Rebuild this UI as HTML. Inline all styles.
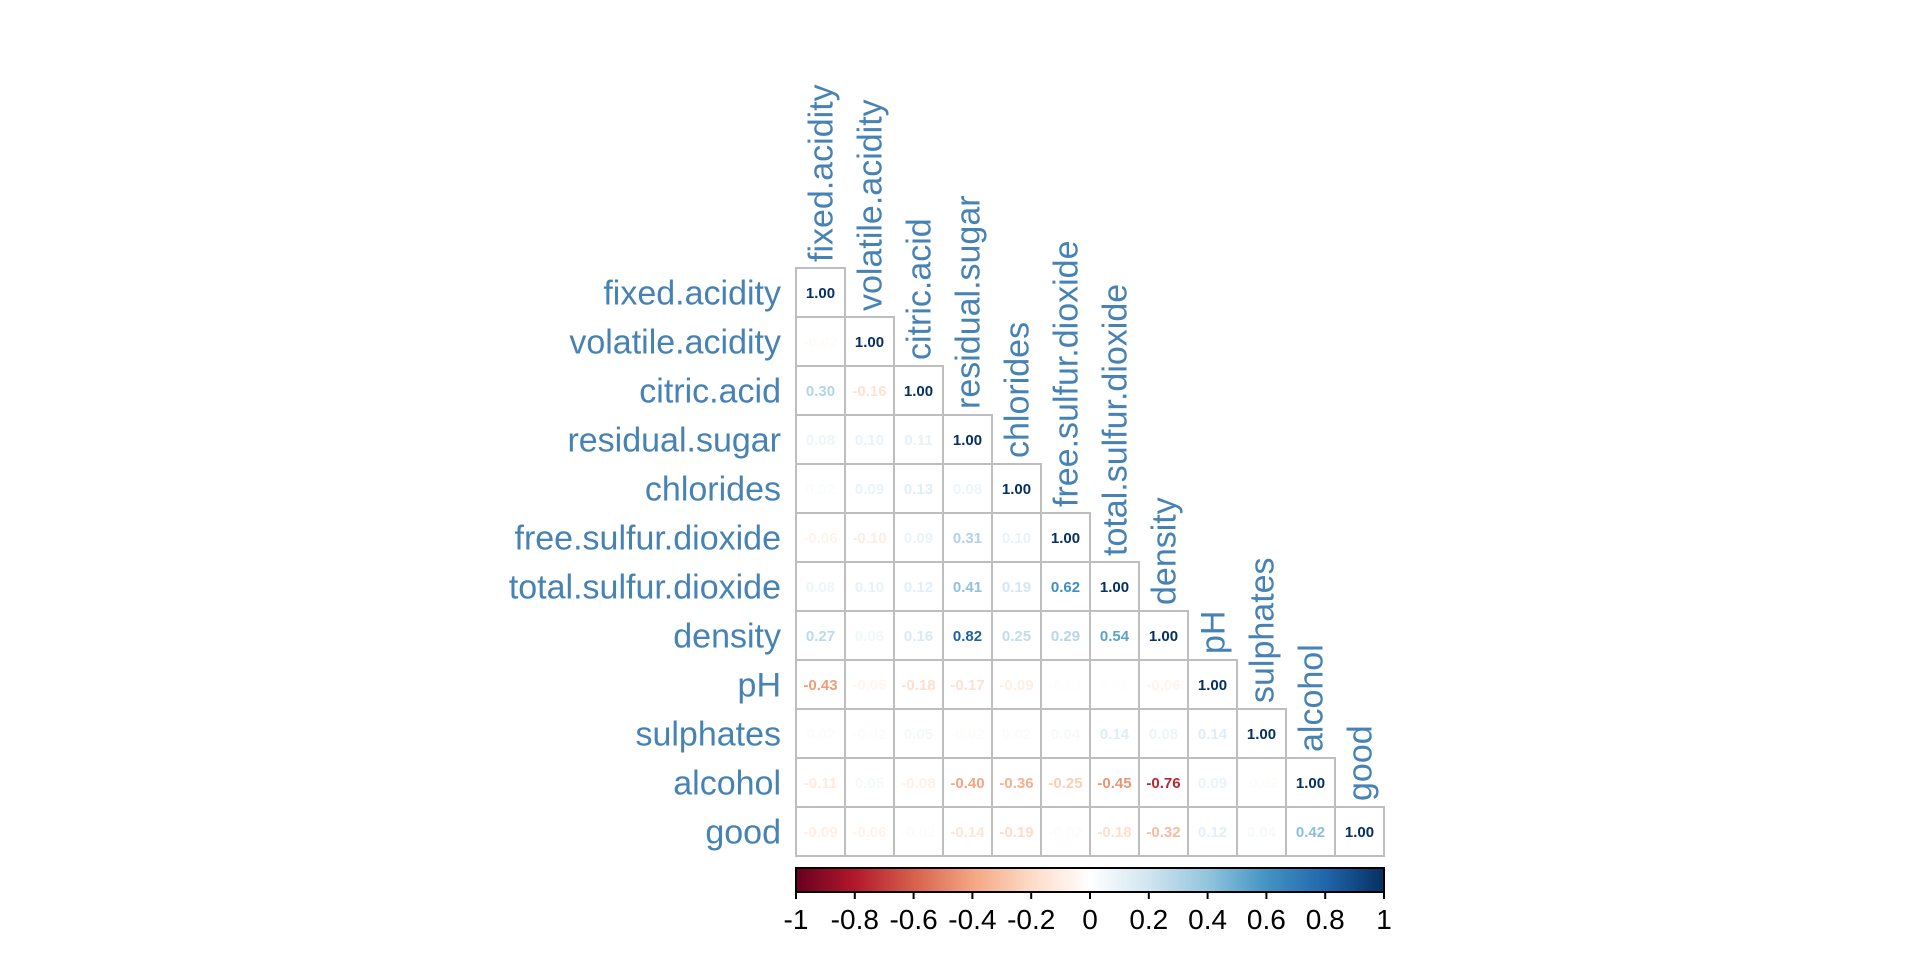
<!DOCTYPE html>
<html><head><meta charset="utf-8"><style>
html,body{margin:0;padding:0;background:#fff;width:1920px;height:960px;overflow:hidden}
svg{display:block}
</style></head><body>
<svg id="s" width="1920" height="960" xmlns="http://www.w3.org/2000/svg" font-family="Liberation Sans, Arial, sans-serif"></svg>
<script>
const names=["fixed.acidity","volatile.acidity","citric.acid","residual.sugar","chlorides","free.sulfur.dioxide","total.sulfur.dioxide","density","pH","sulphates","alcohol","good"];
const M=[
[1],
[-0.02,1],
[0.30,-0.16,1],
[0.08,0.10,0.11,1],
[0.02,0.09,0.13,0.08,1],
[-0.06,-0.10,0.09,0.31,0.10,1],
[0.08,0.10,0.12,0.41,0.19,0.62,1],
[0.27,0.06,0.16,0.82,0.25,0.29,0.54,1],
[-0.43,-0.05,-0.18,-0.17,-0.09,-0.01,0.01,-0.06,1],
[0.02,-0.02,0.05,-0.02,0.02,0.04,0.14,0.08,0.14,1],
[-0.11,0.05,-0.08,-0.40,-0.36,-0.25,-0.45,-0.76,0.09,-0.02,1],
[-0.09,-0.06,-0.02,-0.14,-0.19,-0.02,-0.18,-0.32,0.12,0.04,0.42,1]];
const pal=["#67001F","#B2182B","#D6604D","#F4A582","#FDDBC7","#FFFFFF","#D1E5F0","#92C5DE","#4393C3","#2166AC","#053061"];
function hx(h){return [1,3,5].map(i=>parseInt(h.substr(i,2),16));}
function col(v){let t=(v+1)/2*10;let i=Math.min(9,Math.floor(t));let f=t-i;let a=hx(pal[i]),b=hx(pal[i+1]);
return "rgb("+a.map((c,k)=>Math.round(c+(b[k]-c)*f)).join(",")+")";}
const L=796,T=268,C=49;
let s="";
for(let i=0;i<12;i++)for(let j=0;j<=i;j++){
 s+=`<rect x="${L+j*C}" y="${T+i*C}" width="${C}" height="${C}" fill="#fff" stroke="#BEBEBE" stroke-width="2"/>`;
}
for(let i=0;i<12;i++)for(let j=0;j<=i;j++){
 const v=M[i][j];
 s+=`<text x="${L+j*C+C/2}" y="${T+i*C+C/2+5.5}" font-size="15" font-weight="bold" text-anchor="middle" fill="${col(v)}">${v.toFixed(2)}</text>`;
}
for(let i=0;i<12;i++){
 s+=`<text x="781" y="${T+i*C+C/2+12}" font-size="34" text-anchor="end" fill="#4682B4">${names[i]}</text>`;
}
for(let j=0;j<12;j++){
 const x=L+j*C+C/2+12, y=T+j*C-6;
 s+=`<text transform="translate(${x},${y}) rotate(-90)" font-size="34" fill="#4682B4">${names[j]}</text>`;
}
const R=L+12*C, cbT=868, cbB=892;
s+=`<defs><linearGradient id="g" x1="0" x2="1" y1="0" y2="0">${pal.map((c,k)=>`<stop offset="${k/10}" stop-color="${c}"/>`).join("")}</linearGradient></defs>`;
s+=`<rect x="${L}" y="${cbT}" width="${R-L}" height="${cbB-cbT}" fill="url(#g)" stroke="#000" stroke-width="2"/>`;
const labs=["-1","-0.8","-0.6","-0.4","-0.2","0","0.2","0.4","0.6","0.8","1"];
for(let k=0;k<=10;k++){
 const x=L+(R-L)*k/10;
 s+=`<line x1="${x}" x2="${x}" y1="${cbB}" y2="${cbB+7}" stroke="#000" stroke-width="2"/>`;
 s+=`<text x="${x}" y="929" font-size="28" text-anchor="middle" fill="#000">${labs[k]}</text>`;
}
document.getElementById("s").innerHTML=s;
</script>
</body></html>
